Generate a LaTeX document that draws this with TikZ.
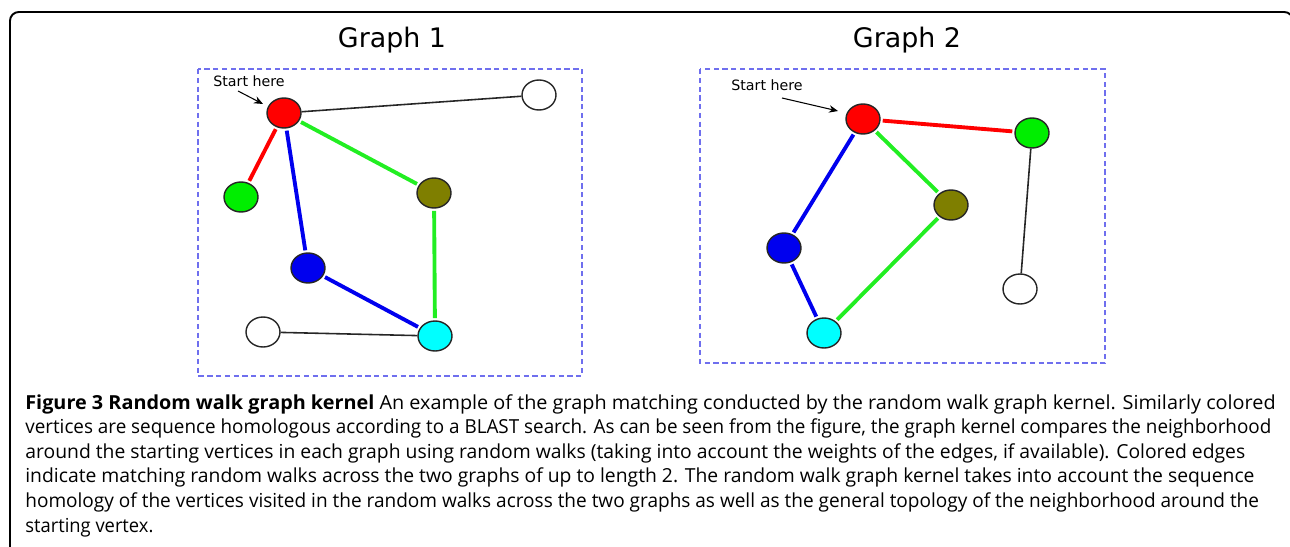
\documentclass[tikz,border=0pt]{standalone}
\usepackage{fontspec}
\setmainfont{Open Sans}
\newfontfamily\dejavu{DejaVu Sans}
\usetikzlibrary{arrows.meta,shapes.geometric}
\definecolor{vred}{HTML}{FF0000}
\definecolor{vgreen}{HTML}{00EE00}
\definecolor{volive}{HTML}{7F7F00}
\definecolor{vblue}{HTML}{0000EE}
\definecolor{vcyan}{HTML}{00FFFF}
\definecolor{egreen}{HTML}{22EE22}
\definecolor{boxblue}{HTML}{6F6FEE}
\newcommand{\capline}[2]{\scalebox{#1}[1]{#2}}
\tikzset{
  vertex/.style={ellipse, draw=black!85, line width=0.8pt, minimum width=0.68cm, minimum height=0.6cm, inner sep=0pt},
  walk/.style={line width=2.2pt, shorten <=1.2pt, shorten >=1.2pt},
  plainedge/.style={draw=black!85, line width=0.9pt},
  graphbox/.style={draw=boxblue, line width=0.9pt, dash pattern=on 3pt off 2pt},
  graphtitle/.style={font=\dejavu\fontsize{15.3}{18}\selectfont, anchor=base},
  hint/.style={font=\dejavu\fontsize{8.1}{10}\selectfont},
  pointer/.style={-{Stealth[length=1.8mm, width=1.5mm]}, line width=0.6pt}
}

\begin{document}
\begin{tikzpicture}[x=0.02cm, y=-0.02cm]
  \useasboundingbox (0,0) rectangle (1290,547);
  \clip (0,0) rectangle (1290,547);
  \draw[line width=1.1pt, rounded corners=5pt] (10,12) rectangle (1293,580);

  % Graph 1
  \node[graphtitle] (title1) at (392,48) {Graph 1};
  \draw[graphbox] (198,69) rectangle (582,376);
  \node[vertex, fill=vred] (r1) at (284,113) {};
  \node[vertex, fill=white] (w1) at (539,95) {};
  \node[vertex, fill=vgreen] (g1) at (241,197) {};
  \node[vertex, fill=volive] (o1) at (434,193) {};
  \node[vertex, fill=vblue] (b1) at (308,268) {};
  \node[vertex, fill=white] (u1) at (263,332) {};
  \node[vertex, fill=vcyan] (c1) at (435,336) {};
  \node[hint] (start1) at (249,81) {Start here};
  \coordinate (tail1) at (238,91);
  \coordinate (tip1) at (263,104);
  \draw[pointer] (tail1) -- (tip1);
  \draw[plainedge] (r1) -- (w1);
  \draw[plainedge] (u1) -- (c1);
  \draw[walk, vred] (r1) -- (g1);
  \draw[walk, vblue] (r1) -- (b1);
  \draw[walk, vblue] (b1) -- (c1);
  \draw[walk, egreen] (r1) -- (o1);
  \draw[walk, egreen] (o1) -- (c1);

  % Graph 2
  \node[graphtitle] (title2) at (907,48) {Graph 2};
  \draw[graphbox] (700,69) rectangle (1105,363);
  \node[vertex, fill=vred] (r2) at (863,119) {};
  \node[vertex, fill=vgreen] (g2) at (1032,133) {};
  \node[vertex, fill=volive] (o2) at (951,205) {};
  \node[vertex, fill=vblue] (b2) at (784,248) {};
  \node[vertex, fill=white] (w2) at (1020,289) {};
  \node[vertex, fill=vcyan] (c2) at (824,333) {};
  \node[hint] (start2) at (767,85) {Start here};
  \coordinate (tail2) at (782,98);
  \coordinate (tip2) at (838,111);
  \draw[pointer] (tail2) -- (tip2);
  \draw[plainedge] (g2) -- (w2);
  \draw[walk, vred] (r2) -- (g2);
  \draw[walk, vblue] (r2) -- (b2);
  \draw[walk, vblue] (b2) -- (c2);
  \draw[walk, egreen] (r2) -- (o2);
  \draw[walk, egreen] (o2) -- (c2);

  % caption
  \node[anchor=base west, align=left, inner sep=0pt, font=\fontsize{11}{13.95}\selectfont] (caption) at (25,532)
    {\capline{1.026}{\textbf{Figure 3 Random walk graph kernel} An example of the graph matching conducted by the random walk graph kernel. Similarly colored}\\
     \capline{0.976}{vertices are sequence homologous according to a BLAST search. As can be seen from the figure, the graph kernel compares the neighborhood}\\
     \capline{1.0}{around the starting vertices in each graph using random walks (taking into account the weights of the edges, if available). Colored edges}\\
     \capline{1.0}{indicate matching random walks across the two graphs of up to length 2. The random walk graph kernel takes into account the sequence}\\
     \capline{0.984}{homology of the vertices visited in the random walks across the two graphs as well as the general topology of the neighborhood around the}\\
     \capline{0.95}{starting vertex.}};
\end{tikzpicture}
\end{document}
